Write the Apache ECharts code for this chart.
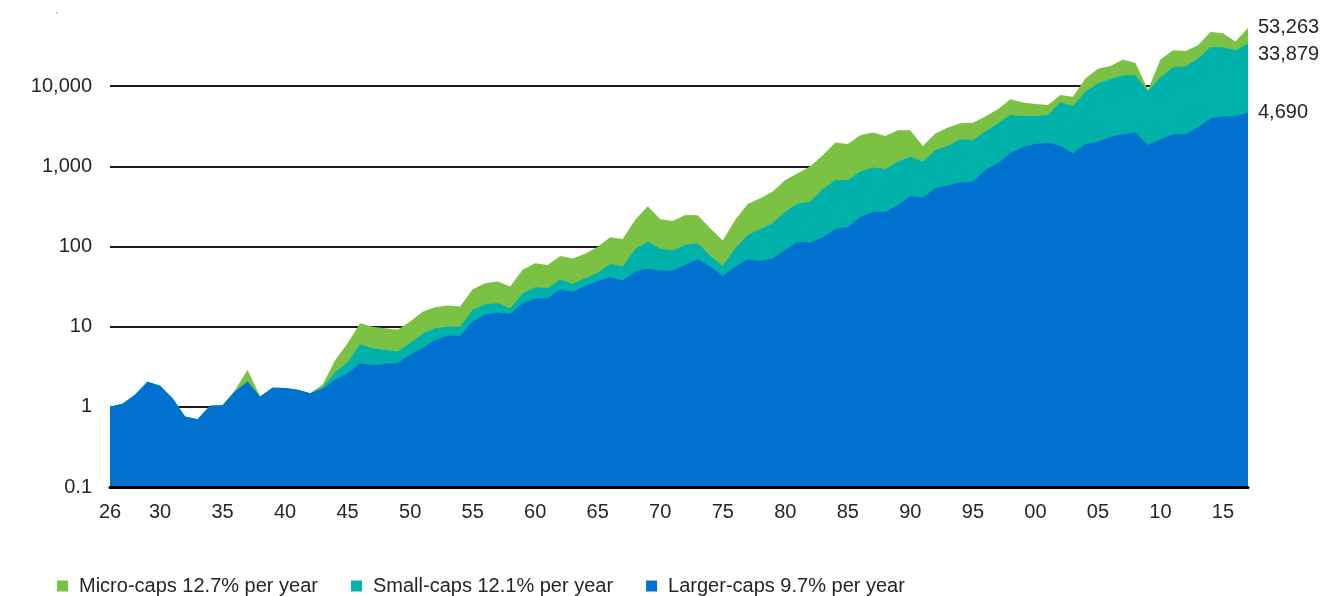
<!DOCTYPE html>
<html>
<head>
<meta charset="utf-8">
<script src="https://cdn.jsdelivr.net/npm/echarts@6/dist/echarts.min.js"></script>
<style>
  html, body { margin: 0; padding: 0; background: #fff; }
  #chart { width: 1327px; height: 596px; }
</style>
</head>
<body>
<div id="chart"></div>
<script>
const years = [];
for (let y = 1926; y <= 2017; y++) years.push(String(y));

// growth of $1 (log scale)
const microCaps = [
  1.0, 1.09, 1.41, 2.05, 1.83, 1.28, 0.76, 0.70, 1.03, 1.05,
  1.62, 2.89, 1.36, 1.73, 1.72, 1.63, 1.48, 1.88, 3.8, 6.23,
  11.0, 10.0, 9.55, 9.12, 11.6, 15.4, 17.5, 18.4, 17.8, 29.3,
  34.9, 36.6, 31.7, 51.4, 61.9, 58.9, 76.3, 71, 81, 99.6,
  130, 124, 215, 318, 219, 208, 248, 245, 169, 119,
  215, 340, 401, 487, 675, 820, 1000, 1370, 1990, 1900,
  2450, 2640, 2390, 2810, 2810, 1790, 2570, 3050, 3440, 3500,
  4190, 5150, 6850, 6250, 5990, 5820, 7750, 7400, 12500, 16500,
  17800, 21500, 19500, 9000, 21500, 28000, 27500, 32300, 47500, 45800,
  36000, 53263
];

const smallCaps = [
  1.0, 1.09, 1.41, 2.05, 1.83, 1.28, 0.76, 0.70, 1.03, 1.05,
  1.55, 2.07, 1.34, 1.73, 1.72, 1.63, 1.48, 1.75, 2.7, 3.57,
  6.05, 5.38, 5.13, 4.89, 6.23, 8.13, 9.55, 10.0, 10.0, 16.2,
  19.0, 19.6, 17.0, 26.2, 31.0, 30.1, 39.0, 34.2, 40.1, 47.2,
  60.7, 56.1, 93.5, 115, 93.5, 89.3, 105, 110, 76.3, 57.3,
  95.4, 139, 164, 195, 272, 345, 364, 519, 675, 675,
  860, 970, 925, 1140, 1320, 1140, 1600, 1790, 2170, 2130,
  2720, 3440, 4370, 4240, 4240, 4370, 6250, 5650, 8500, 10900,
  12200, 13700, 13700, 8700, 12900, 17200, 17600, 22200, 30500, 30500,
  28000, 33879
];

const largerCaps = [
  1.0, 1.09, 1.41, 2.05, 1.83, 1.28, 0.76, 0.70, 1.03, 1.05,
  1.55, 2.07, 1.34, 1.73, 1.72, 1.63, 1.48, 1.66, 2.2, 2.63,
  3.5, 3.31, 3.44, 3.5, 4.45, 5.38, 6.84, 7.69, 7.7, 11.6,
  14.3, 15.0, 14.4, 19.6, 22.5, 22.7, 29.3, 27.0, 32.3, 37.2,
  41.4, 37.6, 48.7, 52.7, 50.3, 50.3, 59.0, 69.4, 56.1, 43.1,
  56.1, 69.4, 66.1, 71.4, 90.7, 115, 112, 130, 165, 175,
  233, 272, 272, 330, 428, 410, 535, 575, 630, 640,
  900, 1090, 1460, 1740, 1900, 1990, 1790, 1460, 1900, 2020,
  2320, 2520, 2640, 1850, 2180, 2520, 2520, 3070, 3950, 4190,
  4240, 4690
];

const seriesNames = [
  'Micro-caps 12.7% per year',
  'Small-caps 12.1% per year',
  'Larger-caps 9.7% per year'
];

const fontFamily = '"Liberation Sans", Arial, sans-serif';
const textColor = '#262626';

const chartInstance = echarts.init(document.getElementById('chart'), null, { renderer: 'canvas' });

function fmtNum(v) {
  const n = Number(Number(v).toPrecision(6));
  return n >= 1000 ? n.toLocaleString('en-US') : String(n);
}

function areaSeries(name, data, color, labelOffset) {
  return {
    name: name,
    type: 'line',
    data: data,
    showSymbol: false,
    symbol: 'none',
    lineStyle: { width: 0 },
    areaStyle: { color: color, opacity: 1, origin: 'start' },
    itemStyle: { color: color },
    z: 3,
    endLabel: {
      show: true,
      distance: 10,
      offset: labelOffset,
      formatter: p => fmtNum(p.value),
      color: textColor,
      fontSize: 20,
      fontFamily: fontFamily
    },
    emphasis: { disabled: true }
  };
}

const option = {
  animation: false,
  title: {
    text: "'",
    left: 51,
    top: 6,
    textStyle: { fontSize: 9, color: '#888', fontWeight: 'normal' }
  },
  grid: {
    left: 110,
    right: 79,
    top: 6,
    bottom: 109
  },
  legend: {
    data: seriesNames,
    left: 57,
    top: 576,
    padding: 0,
    icon: 'rect',
    itemWidth: 11,
    itemHeight: 11,
    itemGap: 33,
    textStyle: {
      color: textColor,
      fontSize: 20,
      fontFamily: fontFamily,
      padding: [0, 0, 0, 6]
    }
  },
  xAxis: {
    type: 'category',
    data: years,
    boundaryGap: false,
    axisLine: { show: true, lineStyle: { color: '#000', width: 3 } },
    axisTick: { show: false },
    axisLabel: {
      interval: (i, v) => i === 0 || Number(v) % 5 === 0,
      formatter: v => v.slice(2),
      margin: 15,
      color: textColor,
      fontSize: 20,
      fontFamily: fontFamily
    },
    splitLine: { show: false },
    z: 5
  },
  yAxis: {
    type: 'log',
    logBase: 10,
    min: 0.1,
    max: 100000,
    splitNumber: 6,
    axisLine: { show: false },
    axisTick: { show: false },
    axisLabel: {
      showMaxLabel: false,
      formatter: v => fmtNum(v),
      margin: 18,
      color: textColor,
      fontSize: 20,
      fontFamily: fontFamily
    },
    splitLine: {
      show: true,
      showMaxLine: false,
      lineStyle: { color: '#1a1a1a', width: 2 }
    }
  },
  series: [
    areaSeries(seriesNames[0], microCaps, '#7bc143', [0, 0]),
    areaSeries(seriesNames[1], smallCaps, '#00b2aa', [0, 11]),
    areaSeries(seriesNames[2], largerCaps, '#0071ce', [0, 0])
  ]
};

chartInstance.setOption(option);
</script>
</body>
</html>
